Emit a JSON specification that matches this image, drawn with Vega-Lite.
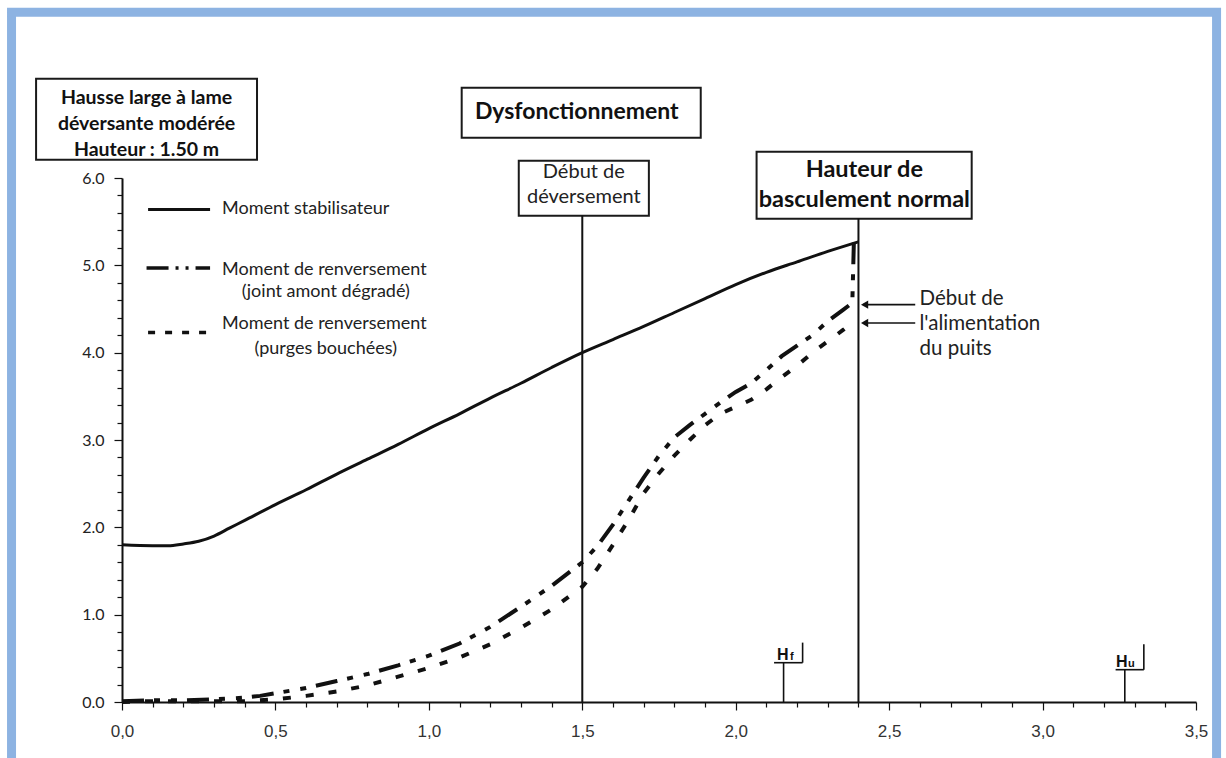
{
  "$schema": "https://vega.github.io/schema/vega-lite/v6.json",
  "width": 1074,
  "height": 524,
  "autosize": {"type": "none"},
  "padding": {"left": 122, "top": 178, "right": 30, "bottom": 56},
  "background": "white",
  "config": {"view": {"stroke": null}, "font": "Lato"},
  "datasets": {
    "solid": [
      {"x": 0, "y": 1.8}, {"x": 0.1, "y": 1.79}, {"x": 0.15, "y": 1.79}, {"x": 0.2, "y": 1.81},
      {"x": 0.25, "y": 1.84}, {"x": 0.3, "y": 1.9}, {"x": 0.35, "y": 1.99}, {"x": 0.4, "y": 2.08},
      {"x": 0.5, "y": 2.26}, {"x": 0.6, "y": 2.43}, {"x": 0.7, "y": 2.61}, {"x": 0.8, "y": 2.78},
      {"x": 0.9, "y": 2.95}, {"x": 1.0, "y": 3.13}, {"x": 1.1, "y": 3.3}, {"x": 1.2, "y": 3.48},
      {"x": 1.3, "y": 3.65}, {"x": 1.4, "y": 3.83}, {"x": 1.5, "y": 4.0}, {"x": 1.6, "y": 4.15},
      {"x": 1.7, "y": 4.3}, {"x": 1.8, "y": 4.46}, {"x": 1.9, "y": 4.62}, {"x": 2.0, "y": 4.78},
      {"x": 2.1, "y": 4.92}, {"x": 2.2, "y": 5.04}, {"x": 2.3, "y": 5.16}, {"x": 2.4, "y": 5.27}
    ],
    "joint": [
      {"x": 0, "y": 0.01}, {"x": 0.1, "y": 0.02}, {"x": 0.2, "y": 0.02}, {"x": 0.3, "y": 0.03},
      {"x": 0.4, "y": 0.05}, {"x": 0.45, "y": 0.07}, {"x": 0.5, "y": 0.1}, {"x": 0.6, "y": 0.16},
      {"x": 0.7, "y": 0.24}, {"x": 0.8, "y": 0.32}, {"x": 0.9, "y": 0.42}, {"x": 1.0, "y": 0.53},
      {"x": 1.1, "y": 0.67}, {"x": 1.2, "y": 0.86}, {"x": 1.3, "y": 1.09}, {"x": 1.4, "y": 1.33},
      {"x": 1.5, "y": 1.6}, {"x": 1.55, "y": 1.79}, {"x": 1.6, "y": 2.03}, {"x": 1.65, "y": 2.3},
      {"x": 1.7, "y": 2.57}, {"x": 1.75, "y": 2.82}, {"x": 1.8, "y": 3.03}, {"x": 1.85, "y": 3.17},
      {"x": 1.9, "y": 3.3}, {"x": 1.95, "y": 3.43}, {"x": 2.0, "y": 3.55}, {"x": 2.05, "y": 3.65},
      {"x": 2.1, "y": 3.8}, {"x": 2.15, "y": 3.96}, {"x": 2.2, "y": 4.08}, {"x": 2.25, "y": 4.2},
      {"x": 2.3, "y": 4.36}, {"x": 2.35, "y": 4.49}, {"x": 2.38, "y": 4.57}, {"x": 2.385, "y": 5.26}
    ],
    "purges": [
      {"x": 0, "y": 0.0}, {"x": 0.1, "y": 0.01}, {"x": 0.2, "y": 0.01}, {"x": 0.3, "y": 0.01},
      {"x": 0.4, "y": 0.01}, {"x": 0.5, "y": 0.03}, {"x": 0.6, "y": 0.07}, {"x": 0.7, "y": 0.12},
      {"x": 0.8, "y": 0.19}, {"x": 0.9, "y": 0.29}, {"x": 1.0, "y": 0.39}, {"x": 1.1, "y": 0.51},
      {"x": 1.2, "y": 0.66}, {"x": 1.3, "y": 0.85}, {"x": 1.4, "y": 1.06}, {"x": 1.5, "y": 1.32},
      {"x": 1.55, "y": 1.53}, {"x": 1.6, "y": 1.8}, {"x": 1.65, "y": 2.08}, {"x": 1.7, "y": 2.39},
      {"x": 1.75, "y": 2.62}, {"x": 1.8, "y": 2.82}, {"x": 1.85, "y": 3.0}, {"x": 1.9, "y": 3.17},
      {"x": 1.95, "y": 3.3}, {"x": 2.0, "y": 3.38}, {"x": 2.05, "y": 3.46}, {"x": 2.1, "y": 3.58},
      {"x": 2.15, "y": 3.72}, {"x": 2.2, "y": 3.85}, {"x": 2.25, "y": 4.0}, {"x": 2.3, "y": 4.13},
      {"x": 2.35, "y": 4.26}, {"x": 2.38, "y": 4.34}
    ]
  },
  "encoding": {
    "x": {
      "field": "x", "type": "quantitative",
      "scale": {"domain": [0, 3.5], "nice": false, "zero": false},
      "axis": {
        "title": null, "grid": false,
        "values": [0,0.1,0.2,0.3,0.4,0.5,0.6,0.7,0.8,0.9,1,1.1,1.2,1.3,1.4,1.5,1.6,1.7,1.8,1.9,2,2.1,2.2,2.3,2.4,2.5,2.6,2.7,2.8,2.9,3,3.1,3.2,3.3,3.4,3.5],
        "labelExpr": "abs(datum.value*2 - round(datum.value*2)) < 0.001 ? replace(format(datum.value, '.1f'), '.', ',') : ''",
        "labelOverlap": false, "labelFlush": false,
        "domainColor": "#111", "domainWidth": 2,
        "tickColor": "#111", "tickWidth": 1.2,
        "tickSize": {"condition": {"test": "abs(datum.value*2 - round(datum.value*2)) < 0.001", "value": 8}, "value": 5},
        "labelFont": "Liberation Sans", "labelFontSize": 17, "labelColor": "#333", "labelPadding": 13
      }
    },
    "y": {
      "field": "y", "type": "quantitative",
      "scale": {"domain": [0, 6], "nice": false, "zero": false},
      "axis": {
        "title": null, "grid": false,
        "values": [0,0.2,0.4,0.6,0.8,1,1.2,1.4,1.6,1.8,2,2.2,2.4,2.6,2.8,3,3.2,3.4,3.6,3.8,4,4.2,4.4,4.6,4.8,5,5.2,5.4,5.6,5.8,6],
        "labelExpr": "abs(datum.value - round(datum.value)) < 0.001 ? format(datum.value, '.1f') : ''",
        "labelOverlap": false, "labelFlush": false,
        "domainColor": "#111", "domainWidth": 2,
        "tickColor": "#111", "tickWidth": 1.2,
        "tickSize": {"condition": {"test": "abs(datum.value - round(datum.value)) < 0.001", "value": 8}, "value": 5},
        "labelFont": "Lato", "labelFontSize": 16, "labelColor": "#222", "labelPadding": 10
      }
    }
  },
  "layer": [
    {
      "data": {"values": [{"x": -0.36, "x2": 3.567, "y": 7.898, "y2": -0.8}]},
      "mark": {"type": "rect", "fill": null, "fillOpacity": 0, "stroke": "#8db3e2", "strokeWidth": 9},
      "encoding": {"x2": {"field": "x2"}, "y2": {"field": "y2"}}
    },
    {
      "data": {"values": [
        {"x": -0.28, "x2": 0.44, "y": 7.136, "y2": 6.209},
        {"x": 1.107, "x2": 1.886, "y": 7.033, "y2": 6.46},
        {"x": 1.293, "x2": 1.717, "y": 6.197, "y2": 5.567},
        {"x": 2.068, "x2": 2.769, "y": 6.3, "y2": 5.533}
      ]},
      "mark": {"type": "rect", "fill": "white", "stroke": "#1a1a1a", "strokeWidth": 2},
      "encoding": {"x2": {"field": "x2"}, "y2": {"field": "y2"}}
    },
    {
      "data": {"values": [
        {"x": 1.5, "y": 0, "y2": 5.567},
        {"x": 2.4, "y": 0, "y2": 5.533}
      ]},
      "mark": {"type": "rule", "stroke": "#111", "strokeWidth": 2},
      "encoding": {"y2": {"field": "y2"}}
    },
    {
      "data": {"values": [
        {"x": 2.156, "y": 0, "y2": 0.45},
        {"x": 2.218, "y": 0.45, "y2": 0.68},
        {"x": 3.268, "y": 0, "y2": 0.37},
        {"x": 3.33, "y": 0.37, "y2": 0.66}
      ]},
      "mark": {"type": "rule", "stroke": "#111", "strokeWidth": 1.6},
      "encoding": {"y2": {"field": "y2"}}
    },
    {
      "data": {"values": [
        {"x": 2.125, "x2": 2.218, "y": 0.45},
        {"x": 3.238, "x2": 3.33, "y": 0.37}
      ]},
      "mark": {"type": "rule", "stroke": "#111", "strokeWidth": 1.6},
      "encoding": {"x2": {"field": "x2"}}
    },
    {
      "data": {"name": "solid"},
      "mark": {"type": "line", "stroke": "#111", "strokeWidth": 3, "interpolate": "monotone"}
    },
    {
      "data": {"name": "joint"},
      "mark": {"type": "line", "stroke": "#111", "strokeWidth": 4, "strokeDash": [22, 10, 6, 11, 6, 10]}
    },
    {
      "data": {"name": "purges"},
      "mark": {"type": "line", "stroke": "#111", "strokeWidth": 4, "strokeDash": [8, 15]}
    },
    {
      "data": {"values": [{"x": 0.085, "x2": 0.287, "y": 5.64}]},
      "mark": {"type": "rule", "stroke": "#111", "strokeWidth": 3},
      "encoding": {"x2": {"field": "x2"}}
    },
    {
      "data": {"values": [{"x": 0.08, "x2": 0.287, "y": 4.97}]},
      "mark": {"type": "rule", "stroke": "#111", "strokeWidth": 3.5, "strokeDash": [22, 7, 3, 7, 3, 7]},
      "encoding": {"x2": {"field": "x2"}}
    },
    {
      "data": {"values": [{"x": 0.085, "x2": 0.287, "y": 4.23}]},
      "mark": {"type": "rule", "stroke": "#111", "strokeWidth": 3.5, "strokeDash": [7, 10]},
      "encoding": {"x2": {"field": "x2"}}
    },
    {
      "data": {"values": [
        {"x": 2.415, "x2": 2.585, "y": 4.55},
        {"x": 2.415, "x2": 2.585, "y": 4.34}
      ]},
      "mark": {"type": "rule", "stroke": "#111", "strokeWidth": 1.6},
      "encoding": {"x2": {"field": "x2"}}
    },
    {
      "data": {"values": [{"x": 2.42, "y": 4.55}, {"x": 2.42, "y": 4.34}]},
      "mark": {"type": "point", "shape": "triangle-left", "filled": true, "fill": "#111", "size": 70, "opacity": 1}
    },
    {
      "data": {"values": [{"x": 0.08, "y": 6.919, "label": ["Hausse large à lame", "déversante modérée", "Hauteur : 1.50 m"]}]},
      "mark": {"type": "text", "font": "Lato", "fontWeight": "bold", "fontSize": 19.5, "lineHeight": 26, "align": "center", "baseline": "middle", "fill": "#111"},
      "encoding": {"text": {"field": "label"}}
    },
    {
      "data": {"values": [{"x": 1.482, "y": 6.758, "label": "Dysfonctionnement"}]},
      "mark": {"type": "text", "font": "Lato", "fontWeight": "bold", "fontSize": 23, "align": "center", "baseline": "middle", "fill": "#111"},
      "encoding": {"text": {"field": "label"}}
    },
    {
      "data": {"values": [{"x": 2.419, "y": 6.094, "label": ["Hauteur de", "basculement normal"]}]},
      "mark": {"type": "text", "font": "Lato", "fontWeight": "bold", "fontSize": 23.5, "lineHeight": 30, "align": "center", "baseline": "middle", "fill": "#111"},
      "encoding": {"text": {"field": "label"}}
    },
    {
      "data": {"values": [{"x": 1.505, "y": 6.071, "label": ["Début de", "déversement"]}]},
      "mark": {"type": "text", "font": "Lato", "fontSize": 20, "lineHeight": 25, "align": "center", "baseline": "middle", "fill": "#222"},
      "encoding": {"text": {"field": "label"}}
    },
    {
      "data": {"values": [{"x": 2.599, "y": 4.616, "label": ["Début de", "l'alimentation", "du puits"]}]},
      "mark": {"type": "text", "font": "Lato", "fontSize": 20.5, "lineHeight": 25, "align": "left", "baseline": "middle", "fill": "#222"},
      "encoding": {"text": {"field": "label"}}
    },
    {
      "data": {"values": [
        {"x": 0.326, "y": 5.64, "label": "Moment stabilisateur"},
        {"x": 0.326, "y": 4.95, "label": "Moment de renversement"},
        {"x": 0.326, "y": 4.33, "label": "Moment de renversement"}
      ]},
      "mark": {"type": "text", "font": "Lato", "fontSize": 18, "align": "left", "baseline": "middle", "fill": "#222"},
      "encoding": {"text": {"field": "label"}}
    },
    {
      "data": {"values": [
        {"x": 0.664, "y": 4.7, "label": "(joint amont dégradé)"},
        {"x": 0.664, "y": 4.04, "label": "(purges bouchées)"}
      ]},
      "mark": {"type": "text", "font": "Lato", "fontSize": 18, "align": "center", "baseline": "middle", "fill": "#222"},
      "encoding": {"text": {"field": "label"}}
    },
    {
      "data": {"values": [{"x": 2.153, "y": 0.48, "label": "H"}, {"x": 3.258, "y": 0.4, "label": "H"}]},
      "mark": {"type": "text", "font": "Liberation Sans", "fontWeight": "bold", "fontSize": 16, "align": "center", "baseline": "alphabetic", "fill": "#111"},
      "encoding": {"text": {"field": "label"}}
    },
    {
      "data": {"values": [{"x": 2.183, "y": 0.48, "label": "f"}, {"x": 3.289, "y": 0.4, "label": "u"}]},
      "mark": {"type": "text", "font": "Liberation Sans", "fontWeight": "bold", "fontSize": 11, "align": "center", "baseline": "alphabetic", "fill": "#111"},
      "encoding": {"text": {"field": "label"}}
    }
  ]
}
